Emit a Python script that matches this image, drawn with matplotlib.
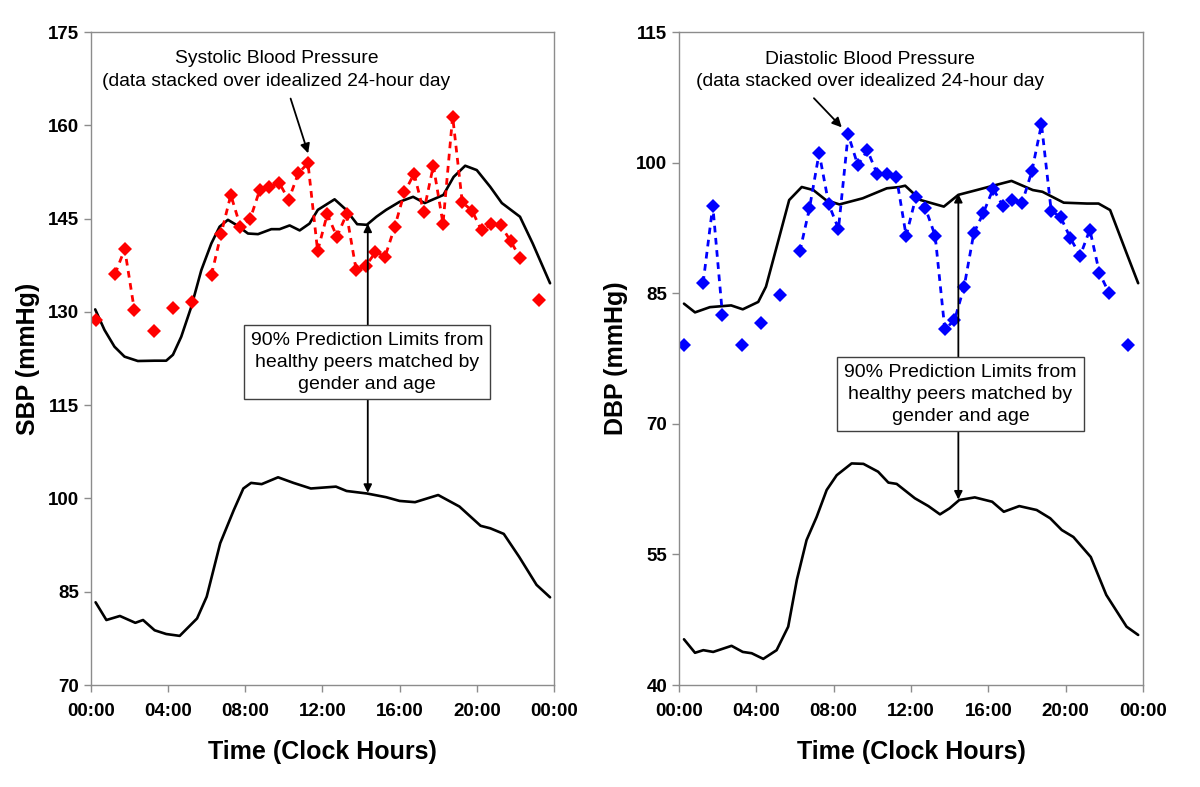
import matplotlib.pyplot as plt
import numpy as np

plt.rcParams['font.family'] = ['Liberation Sans', 'DejaVu Sans']

# measurement times (hours); nan marks empty half-hour slots (breaks the dotted line)
hours = [0.25, 0.75, 1.25, 1.75, 2.25, 2.75, 3.25, 3.75, 4.25, 4.75, 5.25, 5.75,
         6.25, 6.75, 7.25, 7.75, 8.25, 8.75, 9.25, 9.75, 10.25, 10.75, 11.25, 11.75,
         12.25, 12.75, 13.25, 13.75, 14.25, 14.75, 15.25, 15.75, 16.25, 16.75, 17.25, 17.75,
         18.25, 18.75, 19.25, 19.75, 20.25, 20.75, 21.25, 21.75, 22.25, 22.75, 23.25]
nan = np.nan
sbp = [128.7, nan, 136.1, 140.1, 130.3, nan, 126.9, nan, 130.7, nan, 131.6, nan,
       136.0, 142.6, 148.8, 143.7, 144.9, 149.6, 150.1, 150.8, 148.0, 152.3, 153.9, 139.8,
       145.7, 142.1, 145.7, 136.7, 137.4, 139.6, 138.9, 143.7, 149.2, 152.2, 146.1, 153.5,
       144.2, 161.4, 147.6, 146.3, 143.1, 144.1, 143.9, 141.4, 138.7, nan, 131.9]
dbp = [79.05, nan, 86.2, 95.05, 82.5, nan, 79.05, nan, 81.6, nan, 84.8, nan,
       89.8, 94.75, 101.1, 95.2, 92.4, 103.25, 99.7, 101.4, 98.7, 98.65, 98.3, 91.6,
       96.0, 94.75, 91.6, 80.85, 81.9, 85.75, 91.9, 94.25, 97.0, 95.05, 95.7, 95.4,
       99.0, 104.4, 94.5, 93.7, 91.3, 89.3, 92.3, 87.3, 85.0, nan, 79.05]

# 90% prediction limits
sbp_up_t = [0.22, 0.7, 1.22, 1.74, 2.43, 3.3, 3.9, 4.25, 4.68, 5.2, 5.72, 6.24, 6.67, 7.1,
            7.53, 8.14, 8.66, 9.35, 9.78, 10.3, 10.82, 11.33, 11.76, 12.63, 13.2, 13.8,
            14.3, 14.8, 15.3, 16.0, 16.7, 17.3, 18.27, 18.8, 19.4, 20.0, 20.7, 21.3, 22.24,
            22.9, 23.8]
sbp_up = [130.4, 127.1, 124.4, 122.8, 122.1, 122.15, 122.15, 123.1, 126.0, 130.8, 136.7,
          141.0, 143.7, 144.8, 144.0, 142.6, 142.5, 143.3, 143.3, 143.9, 143.1, 144.2, 146.4,
          148.1, 146.5, 144.1, 144.0, 145.3, 146.4, 147.7, 148.5, 147.5, 148.8, 151.7, 153.5,
          152.8, 150.1, 147.5, 145.3, 141.0, 134.6]
sbp_lo_t = [0.24, 0.8, 1.5, 2.3, 2.7, 3.3, 3.9, 4.6, 5.5, 6.0, 6.7, 7.4, 7.9, 8.3, 8.85,
            9.7, 10.5, 11.4, 12.7, 13.25, 14.3, 15.3, 16.0, 16.8, 18.0, 19.1, 20.2, 20.7,
            21.4, 22.2, 23.1, 23.8]
sbp_lo = [83.3, 80.45, 81.1, 80.0, 80.45, 78.8, 78.2, 77.9, 80.7, 84.2, 92.8, 98.1, 101.6,
          102.5, 102.3, 103.4, 102.5, 101.6, 101.9, 101.2, 100.8, 100.2, 99.6, 99.4, 100.55,
          98.7, 95.6, 95.2, 94.3, 90.6, 86.1, 84.1]
dbp_up_t = [0.26, 0.83, 1.6, 2.7, 3.3, 4.1, 4.5, 5.05, 5.7, 6.35, 6.95, 7.6, 8.3, 9.5,
            10.75, 11.4, 11.7, 12.5, 13.7, 14.45, 15.4, 16.25, 17.2, 18.3, 18.8, 19.9, 21.1,
            21.7, 22.3, 23.15, 23.75]
dbp_up = [83.8, 82.8, 83.4, 83.6, 83.15, 84.0, 85.75, 90.3, 95.7, 97.2, 96.85, 95.7, 95.2,
          95.9, 97.05, 97.2, 97.35, 95.7, 94.95, 96.3, 96.85, 97.35, 97.9, 96.85, 96.65,
          95.4, 95.3, 95.3, 94.55, 89.6, 86.15]
dbp_lo_t = [0.26, 0.83, 1.26, 1.77, 2.72, 3.3, 3.76, 4.36, 5.05, 5.65, 6.1, 6.6, 7.12, 7.64,
            8.16, 8.93, 9.54, 10.3, 10.83, 11.26, 12.2, 12.9, 13.5, 14.0, 14.5, 15.3, 16.2,
            16.8, 17.6, 18.5, 19.2, 19.8, 20.4, 21.3, 22.1, 23.15, 23.75]
dbp_lo = [45.25, 43.7, 44.0, 43.8, 44.5, 43.8, 43.65, 43.0, 44.0, 46.7, 52.1, 56.65, 59.3,
          62.4, 64.1, 65.45, 65.4, 64.5, 63.25, 63.1, 61.45, 60.55, 59.6, 60.3, 61.25, 61.55,
          61.05, 59.9, 60.55, 60.1, 59.15, 57.8, 57.0, 54.7, 50.35, 46.7, 45.75]

xticks = [0, 4, 8, 12, 16, 20, 24]
xticklabels = ['00:00', '04:00', '08:00', '12:00', '16:00', '20:00', '00:00']

fig = plt.figure(figsize=(12, 7.87), dpi=100)
ax1 = fig.add_axes([0.0758, 0.1296, 0.3858, 0.8297])
ax2 = fig.add_axes([0.5658, 0.1296, 0.3867, 0.8297])

panels = [
    dict(ax=ax1, vals=sbp, ut=sbp_up_t, uv=sbp_up, lt=sbp_lo_t, lv=sbp_lo, col='#ff0000',
         ylim=(70, 175), ylab='SBP (mmHg)', title='Systolic Blood Pressure',
         title_xy=(9.62, 168.9), arr_from=(10.35, 164.3), arr_to=(11.26, 155.5),
         box_xy=(14.3, 121.9), arrow_x=14.35, up_tip=144.2, lo_tip=100.9),
    dict(ax=ax2, vals=dbp, ut=dbp_up_t, uv=dbp_up, lt=dbp_lo_t, lv=dbp_lo, col='#0000ff',
         ylim=(40, 115), ylab='DBP (mmHg)', title='Diastolic Blood Pressure',
         title_xy=(9.88, 110.6), arr_from=(6.98, 107.4), arr_to=(8.42, 104.05),
         box_xy=(14.56, 73.4), arrow_x=14.45, up_tip=96.4, lo_tip=61.3),
]

for p in panels:
    ax = p['ax']
    ax.plot(p['ut'], p['uv'], color='black', lw=1.9, solid_capstyle='round')
    ax.plot(p['lt'], p['lv'], color='black', lw=1.9, solid_capstyle='round')
    ax.plot(hours, p['vals'], color=p['col'], ls=(0, (2.4, 2.0)), lw=2.0,
            marker='D', markersize=6.8, markeredgewidth=0)

    ylim = p['ylim']
    ax.set_xlim(0, 24)
    ax.set_ylim(*ylim)
    ax.set_yticks(np.arange(ylim[0], ylim[1] + 1, 15))
    ax.set_xticks(xticks)
    ax.set_xticklabels(xticklabels)
    for sp in ax.spines.values():
        sp.set_color('#8c8c8c')
        sp.set_linewidth(1.0)
    ax.tick_params(colors='#8c8c8c', length=5, width=1, direction='out', labelcolor='black')
    for lab in ax.get_xticklabels() + ax.get_yticklabels():
        lab.set_fontsize(13.5)
        lab.set_fontweight('bold')
    ax.tick_params(axis='x', pad=8)
    ax.set_xlabel('Time (Clock Hours)', fontsize=18, fontweight='bold', labelpad=14)
    ax.set_ylabel(p['ylab'], fontsize=18, fontweight='bold', labelpad=6)

    # title text with arrow
    ax.text(*p['title_xy'], p['title'] + '\n(data stacked over idealized 24-hour day',
            ha='center', va='center', fontsize=13.9, linespacing=1.4)
    ax.annotate('', xy=p['arr_to'], xytext=p['arr_from'],
                arrowprops=dict(arrowstyle='-|>', color='black', lw=1.3,
                                mutation_scale=14, shrinkA=0, shrinkB=0))

    # prediction-limits box with arrows to both curves
    bx, by = p['box_xy']
    ax.text(bx, by, '90% Prediction Limits from\nhealthy peers matched by\ngender and age',
            ha='center', va='center', fontsize=14, linespacing=1.38,
            bbox=dict(boxstyle='square,pad=0.35', fc='white', ec='#404040', lw=1.0),
            zorder=5)
    ax_x = p['arrow_x']
    for tip in (p['up_tip'], p['lo_tip']):
        ax.annotate('', xy=(ax_x, tip), xytext=(ax_x, by),
                    arrowprops=dict(arrowstyle='-|>', color='black', lw=1.3,
                                    mutation_scale=12, shrinkA=0, shrinkB=0),
                    zorder=4)

fig.savefig('out.png', dpi=100)
